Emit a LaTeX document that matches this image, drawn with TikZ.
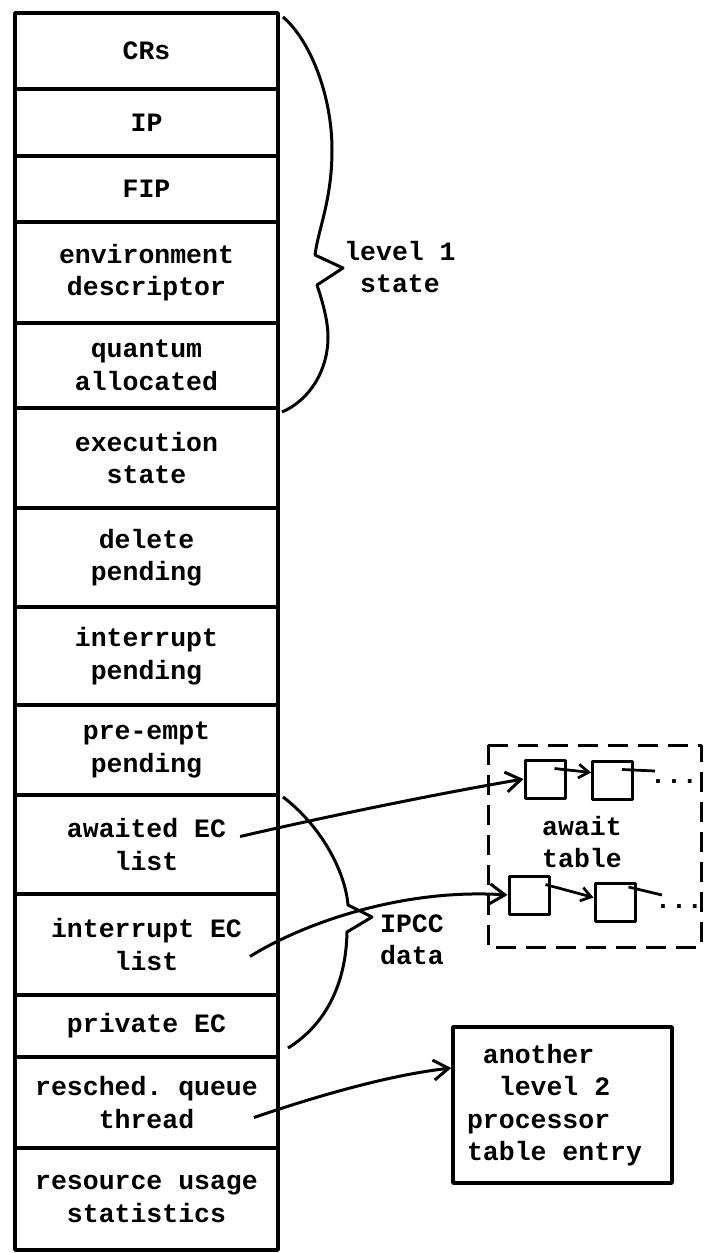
\documentclass[tikz,border=0pt]{standalone}
\usepackage{fontspec}
\setmonofont{Liberation Mono}
\usetikzlibrary{arrows.meta,calc,positioning}
\newcommand{\tabfont}{\fontsize{10.6}{13}\selectfont\ttfamily\bfseries}

\begin{document}
\begin{tikzpicture}[x=0.4pt, y=-0.4pt, line join=round,
    every node/.style={font=\tabfont, align=center},
    cell/.style={line width=1.4pt},
    brace/.style={line width=1.2pt},
    ecbox/.style={draw, line width=1.2pt, minimum width=16pt, minimum height=15.2pt, inner sep=0pt},
    ptr/.style={line width=1.2pt, -{Straight Barb[length=6pt,width=8pt]}},
    link/.style={line width=1.1pt, -{Straight Barb[length=4pt,width=5.5pt]}}]
  \useasboundingbox (0,0) rectangle (705,1253);

  % the processor table entry, field by field
  \draw[cell] (15,13) rectangle (278,89) node[pos=.5] (crs) {CRs};
  \draw[cell] (15,89) rectangle (278,156) node[pos=.5] (ip) {IP};
  \draw[cell] (15,156) rectangle (278,222) node[pos=.5] (fip) {FIP};
  \draw[cell] (15,222) rectangle (278,323) node[pos=.5] (envd) {environment\\descriptor};
  \draw[cell] (15,323) rectangle (278,408) node[pos=.5] (quant) {quantum\\allocated};
  \draw[cell] (15,408) rectangle (278,508) node[pos=.5] (exst) {execution\\state};
  \draw[cell] (15,508) rectangle (278,607) node[pos=.5] (delp) {delete\\pending};
  \draw[cell] (15,607) rectangle (278,705) node[pos=.5] (intp) {interrupt\\pending};
  \draw[cell] (15,705) rectangle (278,795) node[pos=.5] (prep) {pre-empt\\pending};
  \draw[cell] (15,795) rectangle (278,894) node[pos=.5] (awl) {awaited EC\\list};
  \draw[cell] (15,894) rectangle (278,995) node[pos=.5] (iel) {interrupt EC\\list};
  \draw[cell] (15,995) rectangle (278,1057) node[pos=.5] (pec) {private EC};
  \draw[cell] (15,1057) rectangle (278,1148) node[pos=.5] (rqt) {resched. queue\\thread};
  \draw[cell] (15,1148) rectangle (278,1250) node[pos=.5] (rus) {resource usage\\statistics};

  % braces
  \draw[brace] (283,17) .. controls (310,40) and (332,95) .. (332,150)
    .. controls (332,200) and (318,230) .. (315,255) -- (343,268) -- (317,285)
    .. controls (322,300) and (328,320) .. (328,337)
    .. controls (328,370) and (310,400) .. (282,412);
  \node (lvl1) at (400,267) {level 1\\state};

  \draw[brace] (283,797) .. controls (320,825) and (345,870) .. (348,905)
    -- (372,917) -- (347,932) .. controls (346,985) and (325,1025) .. (288,1048);
  \node (ipcc) at (412,940) {IPCC\\data};

  % await table
  \draw[line width=1.2pt, dash pattern=on 8pt off 4pt] (488,745) rectangle (701,947);
  \node (awt) at (582,842) {await\\table};
  \node[ecbox] (a1) at (545,779) {};
  \node[ecbox] (a2) at (612.5,780) {};
  \node[ecbox] (b1) at (529,895) {};
  \node[ecbox] (b2) at (615,902.5) {};
  \coordinate (aend) at (655,771);
  \coordinate (bend) at (662,895);
  \node[inner sep=0pt] (adots) at (674,782) {...};
  \node[inner sep=0pt] (bdots) at (679,907) {...};

  \draw[link] ($(a1.north east)+(-12,10)$) -- ([yshift=3pt]a2.west);
  \draw[line width=1.1pt] ($(a2.north east)+(-12,10)$) -- (aend);
  \draw[link] ($(b1.north east)+(-5,10)$) -- ([yshift=2pt]b2.west);
  \draw[line width=1.1pt] ($(b2.north east)+(-8,5)$) -- (bend);

  % another entry
  \node[draw, line width=1.4pt, minimum width=87.6pt, minimum height=62.4pt,
        align=left] (l2) at (562.5,1105)
        {\phantom{x}another\\\phantom{xx}level 2\\processor\\table entry\phantom{x}};

  % pointers out of the entry
  \draw[ptr] ([shift={(4,-8)}]awl.east) .. controls (320,818) and (430,795) .. (a1.west);
  \draw[ptr] ([shift={(-2,12)}]iel.east) .. controls (300,925) and (400,888) .. (b1.west);
  \draw[ptr] ([shift={(-14,15)}]rqt.east) .. controls (320,1095) and (390,1075) .. ([yshift=14.8pt]l2.west);
\end{tikzpicture}
\end{document}
